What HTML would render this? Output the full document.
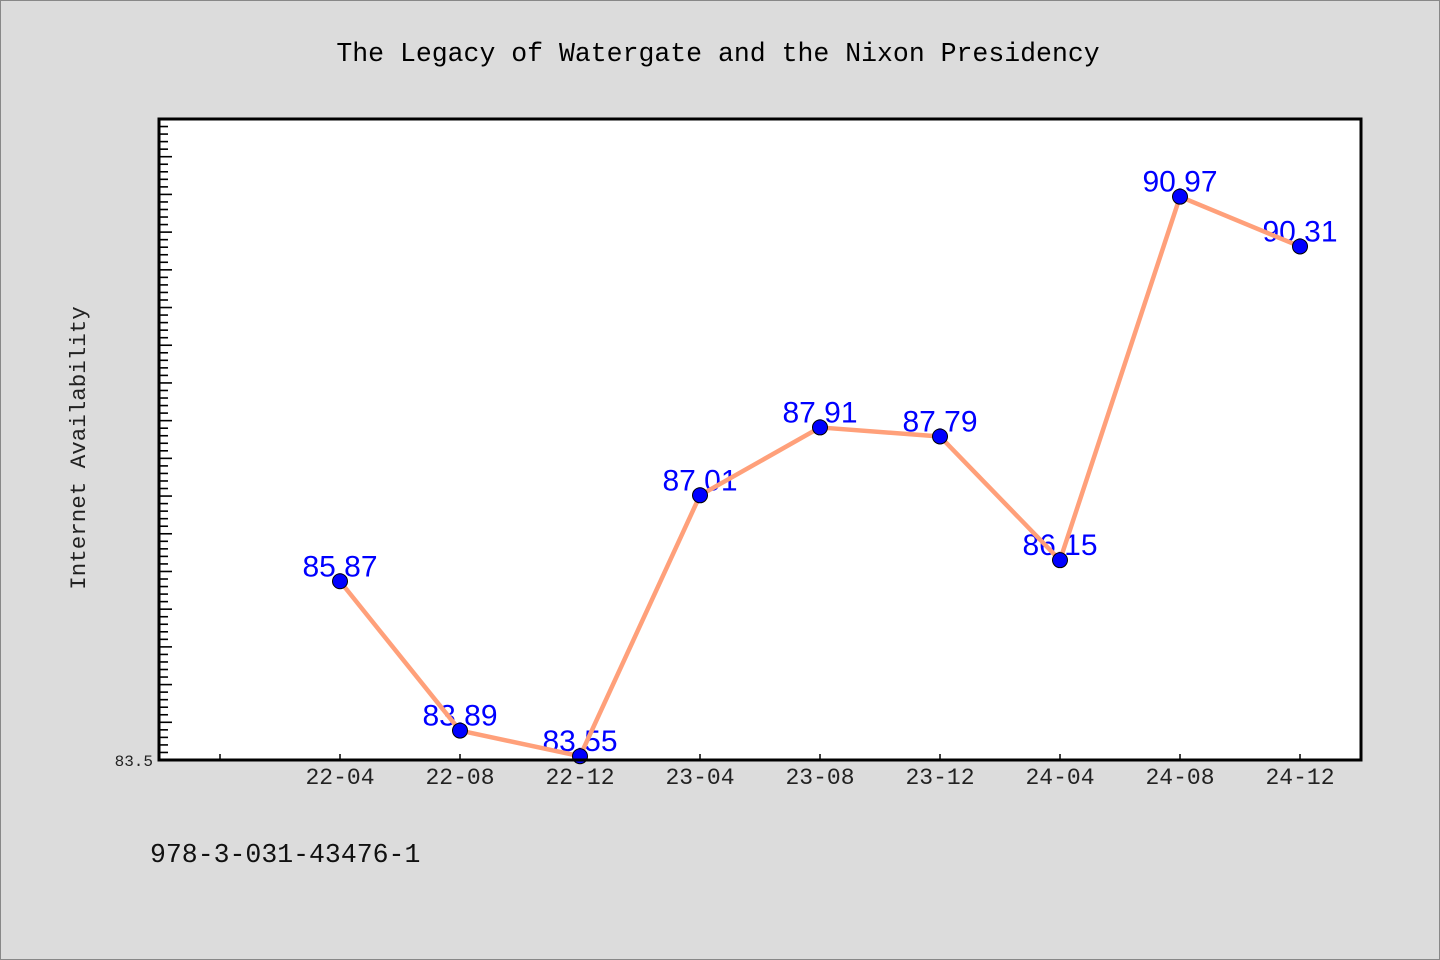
<!DOCTYPE html>
<html><head><meta charset="utf-8"><style>
html,body{margin:0;padding:0;background:#dcdcdc;}
svg{display:block;}
</style></head><body>
<svg width="1440" height="960" xmlns="http://www.w3.org/2000/svg">
<rect x="0.5" y="0.5" width="1439" height="959" fill="#dcdcdc" stroke="#888"/>
<text x="718" y="61" text-anchor="middle" font-family="'Liberation Mono','DejaVu Sans Mono',monospace" font-size="26.5" fill="#000">The Legacy of Watergate and the Nixon Presidency</text>
<text transform="translate(85,448) rotate(-90)" text-anchor="middle" font-family="'Liberation Mono','DejaVu Sans Mono',monospace" font-size="22.5" fill="#222">Internet Availability</text>
<text x="150" y="862" font-family="'Liberation Mono','DejaVu Sans Mono',monospace" font-size="26.5" fill="#111">978-3-031-43476-1</text>
<rect x="159" y="119" width="1202" height="641" fill="#fff"/>
<g id="ticks"></g>
<g id="labels"></g>
<g id="line"></g>
<g id="points"></g>
<rect x="159" y="119" width="1202" height="641" fill="none" stroke="#000" stroke-width="3"/>
<text x="153" y="766" text-anchor="end" font-family="'Liberation Mono','DejaVu Sans Mono',monospace" font-size="16" fill="#222">83.5</text>
<g id="xlabels"></g>
</svg>
<script>
const categories = ["", "22-04","22-08","22-12","23-04","23-08","23-12","24-04","24-08","24-12"];
const values = [null, 85.87, 83.89, 83.55, 87.01, 87.91, 87.79, 86.15, 90.97, 90.31];
const valueLabels = ["", "85.87","83.89","83.55","87.01","87.91","87.79","86.15","90.97","90.31"];
const yMin = 83.5, yMax = 92.0;
const NS = "http://www.w3.org/2000/svg";
const L=159,R=1361,T=119,B=760;
function xs(i){ return 220 + i * 120; }
function ys(v){ return B - (v-yMin)/(yMax-yMin)*(B-T); }
function mk(tag, attrs, parent){ const e=document.createElementNS(NS,tag); for(const k in attrs) e.setAttribute(k,attrs[k]); parent.appendChild(e); return e; }
const ticks=document.getElementById('ticks');
for(let k=1;k<100;k++){ const v=yMin+k*0.1; const y=ys(v); if(y<T+3) break; const major=(k%5===0);
  const t=mk('line',{x1:L,x2:L+(major?13:9),y1:y,y2:y,stroke:'#000','stroke-width':1.6},ticks);
  
  
}
const xl=document.getElementById('xlabels');
categories.forEach((c,i)=>{ const x=xs(i);
  const t=mk('line',{x1:x,x2:x,y1:B,y2:B-6,stroke:'#000','stroke-width':1.5},ticks);
  
  
  if(c){ const tx=mk('text',{x:x,y:B+24,'text-anchor':'middle','font-family':"'Liberation Mono','DejaVu Sans Mono',monospace",'font-size':23,fill:'#222'},xl); tx.textContent=c;
    
     }
});
const lab=document.getElementById('labels');
let d='';
values.forEach((v,i)=>{ if(v==null) return; const x=xs(i),y=ys(v); d+=(d?'L':'M')+x+','+y;
  const tx=mk('text',{x:x,y:y-5,'text-anchor':'middle','font-family':"'Liberation Sans',sans-serif",'font-size':30,fill:'#0000ff'},lab); tx.textContent=valueLabels[i];
  
  
});
const p=mk('path',{d:d,fill:'none',stroke:'#ffa07a','stroke-width':4.5,'stroke-linejoin':'round'},document.getElementById('line'));


const pts=document.getElementById('points');
values.forEach((v,i)=>{ if(v==null) return;
  const c=mk('circle',{cx:xs(i),cy:ys(v),r:7.5,fill:'#0000ff',stroke:'#000','stroke-width':1},pts);
  
  
});
</script>
</body></html>
